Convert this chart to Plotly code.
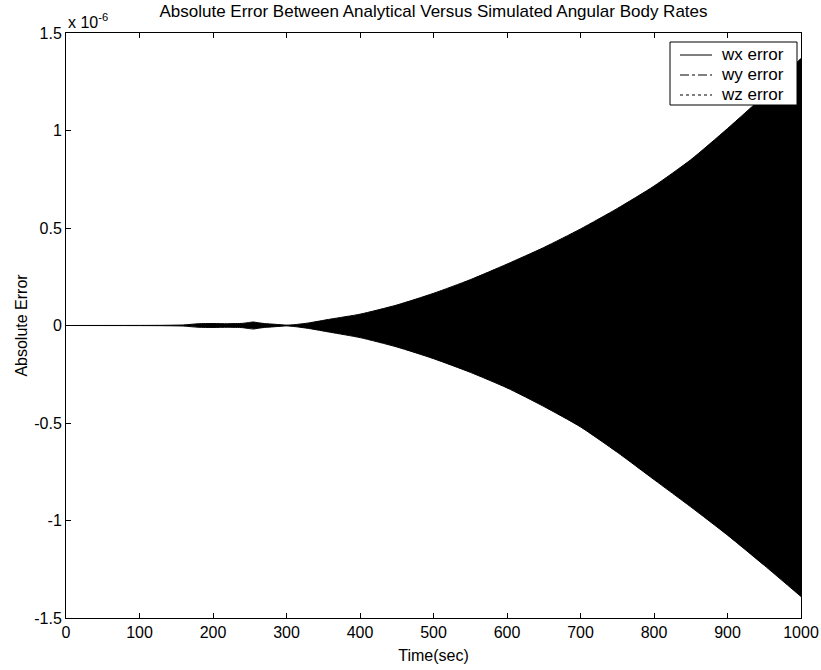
import plotly.graph_objects as go

# Time samples (sec) and envelope of the absolute error (units of 1e-6)
time_s = [0, 100, 130, 160, 180, 200, 220, 240, 250, 255, 260, 270, 285, 300, 310,
          330, 360, 400, 450, 500, 550, 600, 650, 700, 750, 800, 850, 900, 950, 1000]
err_upper = [0, 0.0005, 0.001, 0.003, 0.009, 0.010, 0.009, 0.011, 0.016, 0.018, 0.015,
             0.010, 0.006, 0.002, 0.004, 0.013, 0.033, 0.058, 0.105, 0.165, 0.235, 0.315,
             0.40, 0.495, 0.60, 0.715, 0.85, 1.01, 1.18, 1.37]
err_lower = [0, -0.0005, -0.001, -0.003, -0.009, -0.010, -0.009, -0.011, -0.016, -0.018,
             -0.015, -0.010, -0.006, -0.002, -0.005, -0.015, -0.035, -0.062, -0.11, -0.17,
             -0.24, -0.32, -0.415, -0.52, -0.65, -0.79, -0.93, -1.075, -1.23, -1.39]

series_names = ["wx error", "wy error", "wz error"]
series_dash = ["solid", "dashdot", "dot"]

x_ticks = [0, 100, 200, 300, 400, 500, 600, 700, 800, 900, 1000]
y_ticks = [-1.5, -1, -0.5, 0, 0.5, 1, 1.5]
y_tick_text = ["-1.5", "-1", "-0.5", "0", "0.5", "1", "1.5"]

FONT = "Liberation Sans, Arial, sans-serif"
W, H = 821, 670
ML, MR, MT, MB = 66, 20, 33, 52
PW, PH = W - ML - MR, H - MT - MB


def px_x(px):
    return (px - ML) / PW


def px_y(py):
    return (H - MB - py) / PH


fig = go.Figure()

# filled envelope (dense oscillation rendered solid black)
fig.add_trace(go.Scatter(x=time_s, y=err_upper, mode="lines",
                         line=dict(color="black", width=1, shape="spline", smoothing=0.6),
                         showlegend=False, hoverinfo="skip"))
fig.add_trace(go.Scatter(x=time_s, y=err_lower, mode="lines", fill="tonexty",
                         fillcolor="black",
                         line=dict(color="black", width=1, shape="spline", smoothing=0.6),
                         showlegend=False, hoverinfo="skip"))

shapes = [dict(type="rect", xref="paper", yref="paper",
               x0=px_x(670), x1=px_x(797), y0=px_y(105), y1=px_y(42),
               line=dict(color="black", width=1), fillcolor="white", layer="above")]
annotations = []
for i, (name, dash) in enumerate(zip(series_names, series_dash)):
    yy = px_y(55 + 20 * i)
    shapes.append(dict(type="line", xref="paper", yref="paper",
                       x0=px_x(680), x1=px_x(712), y0=yy, y1=yy,
                       line=dict(color="black", width=1, dash=dash), layer="above"))
    annotations.append(dict(text=name, xref="paper", yref="paper", x=px_x(719), y=yy,
                            xanchor="left", yanchor="middle", showarrow=False,
                            font=dict(family=FONT, size=17, color="black")))

annotations.append(dict(text="x 10<sup>-6</sup>", xref="paper", yref="paper",
                        x=0, y=1, xanchor="left", yanchor="bottom", showarrow=False,
                        font=dict(family=FONT, size=16, color="black")))

axis_common = dict(showline=True, linecolor="black", linewidth=1, mirror="ticks",
                   ticks="inside", ticklen=5, tickcolor="black", showgrid=False,
                   zeroline=False, automargin=False,
                   tickfont=dict(family=FONT, size=16, color="black"))

fig.update_layout(
    width=W, height=H,
    margin=dict(l=ML, r=MR, t=MT, b=MB, autoexpand=False),
    paper_bgcolor="white", plot_bgcolor="white",
    font=dict(family=FONT, size=16, color="black"),
    showlegend=False,
    title=dict(text="Absolute Error Between Analytical Versus Simulated Angular Body Rates",
               x=0.5, xref="paper", xanchor="center", y=0.983, yanchor="middle",
               font=dict(family=FONT, size=17, color="black")),
    xaxis=dict(range=[0, 1000], tickvals=x_ticks,
               title=dict(text="Time(sec)", standoff=9,
                          font=dict(family=FONT, size=16)), **axis_common),
    yaxis=dict(range=[-1.5, 1.5], tickvals=y_ticks, ticktext=y_tick_text,
               title=dict(text="Absolute Error", standoff=2,
                          font=dict(family=FONT, size=16)), **axis_common),
    shapes=shapes,
    annotations=annotations,
)

fig.write_html("out.html")
